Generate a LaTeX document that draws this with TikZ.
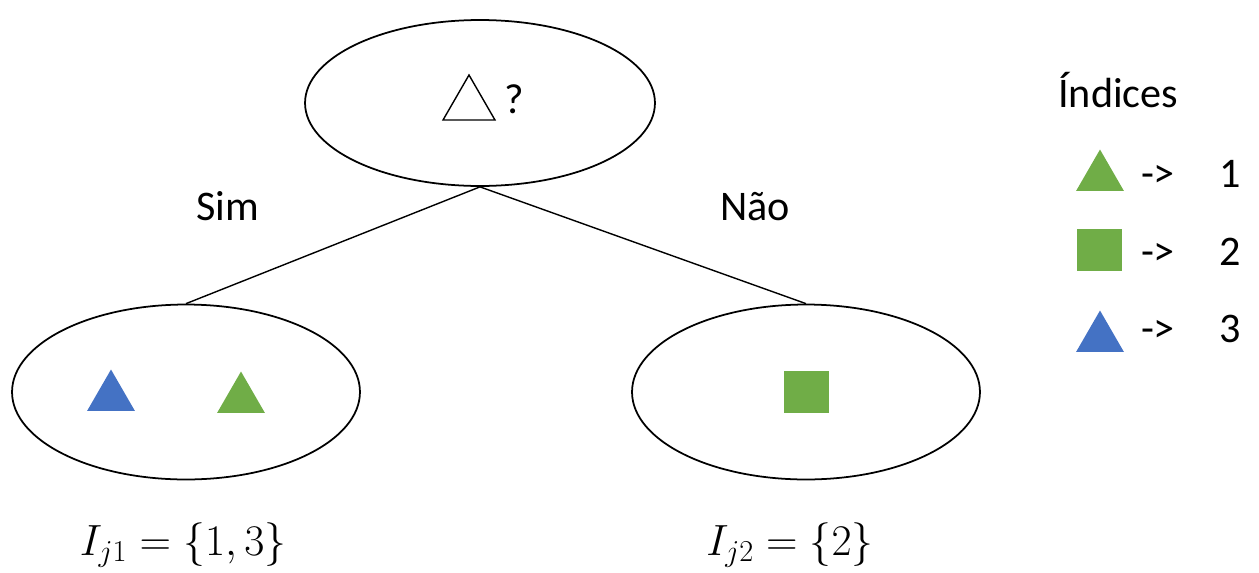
\documentclass[tikz,border=0pt]{standalone}
\usepackage{fontspec}
\setmainfont{Carlito}
\usetikzlibrary{shapes.geometric}
\definecolor{leafgreen}{HTML}{70AD47}
\definecolor{leafblue}{HTML}{4472C4}

\begin{document}
\begin{tikzpicture}[x=0.02cm,y=-0.02cm,
  set/.style={draw,ellipse,line width=1pt,inner sep=0pt},
  tri/.style={regular polygon,regular polygon sides=3,minimum size=1.1cm,inner sep=0pt},
  sq/.style={fill=leafgreen,minimum width=0.9cm,minimum height=0.84cm,inner sep=0pt},
  lbl/.style={font=\fontsize{24}{28}\selectfont,inner sep=0pt},
  mlbl/.style={font=\fontsize{26}{30}\selectfont,inner sep=0pt}]
\useasboundingbox (0,0) rectangle (1259,572);
% tree
\node[set,minimum width=7cm,minimum height=3.32cm] (root) at (480,103) {};
\node[set,minimum width=6.96cm,minimum height=3.5cm] (sim) at (186,392) {};
\node[set,minimum width=6.96cm,minimum height=3.5cm] (nao) at (806,392) {};
\draw[line width=0.8pt] (root.south)--(sim.north);
\draw[line width=0.8pt] (root.south)--(nao.north);
\node[tri,draw,line width=0.8pt,minimum size=1.2cm] (qtri) at (469,105) {};
\node[lbl] (qmark) at (514,99) {?};
\node[lbl,anchor=base] (simlbl) at (228,220) {Sim};
\node[lbl,anchor=base] (naolbl) at (755,220) {Não};
\node[tri,fill=leafblue] (b3) at (111,397) {};
\node[tri,fill=leafgreen] (g1) at (241,399) {};
\node[sq] (s2) at (806,392) {};
\node[mlbl,anchor=base] (setsim) at (183,555) {$I_{j1}=\{1,3\}$};
\node[mlbl,anchor=base] (setnao) at (790,555) {$I_{j2}=\{2\}$};
% legend
\node[lbl,anchor=base west] (idx) at (1058,107) {Índices};
\node[tri,fill=leafgreen] (lg1) at (1100,177) {};
\node[sq] (lg2) at (1099,250) {};
\node[tri,fill=leafblue] (lg3) at (1100,338) {};
\foreach \y/\n in {187/1,265/2,342/3}{
  \node[lbl,anchor=base] (arr\n) at (1158,\y) {->};
  \node[lbl,anchor=base] (num\n) at (1230,\y) {\n};}
\end{tikzpicture}
\end{document}
